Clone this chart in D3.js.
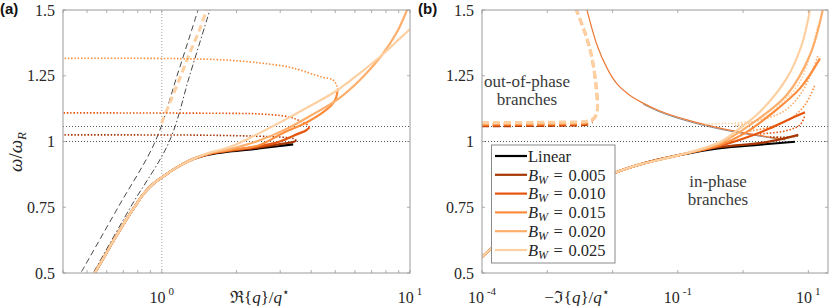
<!DOCTYPE html>
<html>
<head>
<meta charset="utf-8">
<script src="https://cdn.jsdelivr.net/npm/d3@7"></script>
<style>
  html, body { margin: 0; padding: 0; background: #fff; }
  svg { display: block; font-family: 'Liberation Serif', 'DejaVu Serif', serif; }
</style>
</head>
<body>
<div id="chart"></div>
<script>
// ---- series identities ----
const seriesNames = ['Linear', '0.005', '0.010', '0.015', '0.020', '0.025'];
const seriesColors = ['#000000', '#a63603', '#e6550d', '#fd8d3c', '#fdae6b', '#fdd0a2'];
const omegaTicks = [0.5, 0.75, 1, 1.25, 1.5];
const omegaTickLabels = ['0.5', '0.75', '1', '1.25', '1.5'];
const refOmega = [1, 1.057];

// ---- panel (a): omega vs Re{q}/q* ----
const aBase = [[0.537, 0.5], [0.589, 0.565], [0.634, 0.618], [0.690, 0.675], [0.743, 0.724], [0.793, 0.764], [0.838, 0.797],
  [0.895, 0.827], [0.955, 0.850], [1.028, 0.871], [1.108, 0.892], [1.215, 0.914], [1.334, 0.933]];
const aSolidLinear = [[1.562, 0.951], [1.880, 0.962], [2.438, 0.973], [2.991, 0.983], [3.384, 0.989]];
const aSolid005 = [[1.562, 0.953], [1.880, 0.964], [2.438, 0.977], [2.991, 0.990], [3.384, 0.998], [3.486, 1.004]];
const aSolid010 = [[1.562, 0.954], [1.880, 0.966], [2.438, 0.981], [2.991, 1.000], [3.535, 1.029], [3.807, 1.042], [3.934, 1.053]];
const aSolid015 = [[1.562, 0.955], [1.880, 0.968], [2.438, 0.984], [3.133, 1.036], [3.879, 1.075], [4.835, 1.139], [5.031, 1.165], [5.111, 1.196]];
const aSolid020 = [[1.562, 0.956], [1.880, 0.971], [2.438, 1.002], [3.183, 1.048], [3.953, 1.097], [5.078, 1.158], [6.285, 1.234], [7.713, 1.329], [8.863, 1.416], [9.725, 1.5]];
const aSolid025 = [[1.562, 0.958], [1.880, 0.979], [2.438, 1.029], [3.183, 1.086], [3.953, 1.135], [5.078, 1.194], [6.285, 1.260], [7.713, 1.329], [9.114, 1.392], [10, 1.428]];
const aDot005 = [[3.486, 1.004], [3.384, 1.011], [2.991, 1.017], [2.438, 1.020], [1.5, 1.024], [0.4, 1.025]];
const aDot010 = [[3.934, 1.053], [3.843, 1.065], [3.601, 1.078], [3.282, 1.093], [2.438, 1.105], [1.880, 1.107], [0.4, 1.109]];
const aDot015 = [[5.111, 1.196], [5.078, 1.211], [4.893, 1.234], [4.417, 1.245], [3.601, 1.272], [3.22, 1.284], [1.795, 1.310], [0.4, 1.316]];
const aOutPhase = [[0.997, 1.069], [1.077, 1.146], [1.182, 1.241], [1.297, 1.337], [1.423, 1.428], [1.514, 1.5]];
const aGuideDash = [[0.475, 0.505], [0.667, 0.75], [0.941, 1.0], [1.155, 1.253], [1.40, 1.5]];
const aGuideDashDot = [[0.533, 0.505], [0.748, 0.75], [1.072, 1.0], [1.297, 1.253], [1.562, 1.5]];

// ---- panel (b): omega vs -Im{q}/q* ----
const bBase = [[1e-4, 0.561], [1.422e-4, 0.595], [0.0011, 0.758], [0.0102, 0.878], [0.0264, 0.913], [0.108, 0.949]];
const bSolidLinear = [[0.443, 0.975], [1.815, 0.988], [6.245, 0.999]];
const bSolid005 = [[0.443, 0.979], [1.815, 0.994], [3.678, 1.008], [7.015, 1.025]];
const bSolid010 = [[0.443, 0.983], [1.07, 1.013], [2.585, 1.050], [5.236, 1.086], [8.886, 1.111]];
const bSolid015 = [[0.443, 0.987], [1.07, 1.032], [2.585, 1.101], [7.447, 1.202], [15.08, 1.316]];
const bSolid020 = [[0.443, 0.993], [1.276, 1.063], [4.657, 1.177], [10.59, 1.329], [16.58, 1.5]];
const bSolid025 = [[0.443, 0.998], [0.897, 1.051], [1.815, 1.113], [4.657, 1.240], [7.91, 1.367], [10.59, 1.5]];
const bDot005 = [[2.585, 1.017], [5.236, 1.017], [6.93, 1.021]];
const bDot010 = [[1.815, 1.029], [4.385, 1.040], [7.447, 1.063], [8.886, 1.101]];
const bDot015 = [[1.276, 1.040], [2.585, 1.055], [5.236, 1.086], [8.886, 1.139], [12.65, 1.215]];
const bDot020 = [[0.752, 1.059], [1.419, 1.075], [4.088, 1.113], [7.447, 1.177], [11.37, 1.265], [14.06, 1.329]];
const bDot025 = [[0.261, 1.065], [0.443, 1.068], [0.807, 1.070], [2.018, 1.088], [3.678, 1.139], [7.447, 1.227], [11.78, 1.367], [14.06, 1.443]];
const bOutThin = [[0.00406, 1.5], [0.00578, 1.367], [0.00823, 1.279], [0.0117, 1.219], [0.01725, 1.181], [0.0293, 1.146], [0.0534, 1.116], [0.1384, 1.082], [0.443, 1.051], [1.815, 1.023], [4.385, 1.008]];
const bOutThinLinear = [[0.0293, 1.142], [0.0534, 1.112], [0.1384, 1.078], [0.443, 1.047], [1.815, 1.020], [4.385, 1.006]];
const bDash005 = [[1e-4, 1.060], [0.0016, 1.062], [0.0042, 1.066], [0.0049, 1.072]];
const bDash010 = [[1e-4, 1.063], [0.0016, 1.065], [0.0042, 1.069], [0.0049, 1.075]];
const bDash015 = [[1e-4, 1.066], [0.0016, 1.068], [0.0042, 1.072], [0.0049, 1.078]];
const bDash020 = [[1e-4, 1.069], [0.0016, 1.071], [0.0042, 1.075], [0.0052, 1.088], [0.0058, 1.113], [0.00564, 1.202], [0.00473, 1.329], [0.00374, 1.417], [0.00279, 1.5]];
const bDash025 = [[1e-4, 1.072], [0.0016, 1.074], [0.0042, 1.078], [0.0052, 1.09], [0.0058, 1.113], [0.00564, 1.202], [0.00473, 1.329], [0.00374, 1.417], [0.00279, 1.5]];

const aMinorTicks = [0.4, 0.5, 0.6, 0.7, 0.8, 0.9, 1, 2, 3, 4, 5, 6, 7, 8, 9, 10];
const aLabelTicks = [1, 10];
const aLabelExp = ['0', '1'];
const bTicks = [1e-4, 1e-3, 1e-2, 1e-1, 1, 10];
const bLabelTicks = [1e-4, 1e-1, 10];
const bLabelExp = ['-4', '-1', '1'];

const W = 830, H = 306;
const svg = d3.select('#chart').append('svg').attr('width', W).attr('height', H);

const y = d3.scaleLinear().domain([0.5, 1.5]).range([273, 10]);
const xA = d3.scaleLog().domain([0.4, 10]).range([63, 410]);
const xB = d3.scaleLog().domain([1e-4, 20]).range([482, 828]);

const FRAME = '#9a9a9a';
const INK = '#262626';

function lineGen(x) {
  return d3.line()
    .x(d => x(d[0]))
    .y(d => y(d[1]))
    .curve(d3.curveCatmullRom.alpha(0.5));
}

function makePanel(id, x) {
  const [x0, x1] = x.range();
  const [y0, y1] = y.range();
  svg.append('clipPath').attr('id', id)
    .append('rect').attr('x', x0).attr('y', y1).attr('width', x1 - x0).attr('height', y0 - y1);
  const g = svg.append('g');
  const plot = g.append('g').attr('clip-path', `url(#${id})`);
  return { g, plot, x0, x1, y0, y1 };
}

function drawPath(plot, x, data, color, width, dash) {
  plot.append('path')
    .datum(data)
    .attr('fill', 'none')
    .attr('stroke', color)
    .attr('stroke-width', width)
    .attr('stroke-dasharray', dash || null)
    .attr('d', lineGen(x));
}

function refLines(p) {
  refOmega.forEach(w => {
    p.plot.append('line')
      .attr('x1', p.x0).attr('x2', p.x1)
      .attr('y1', y(w)).attr('y2', y(w))
      .attr('stroke', '#444').attr('stroke-width', 0.9)
      .attr('stroke-dasharray', '1,2');
  });
}

function drawFrame(p, x, ticks, labelTicks, labelExp) {
  const g = p.g;
  ticks.forEach(t => {
    const px = x(t);
    g.append('line').attr('x1', px).attr('x2', px).attr('y1', p.y0).attr('y2', p.y0 - 3)
      .attr('stroke', FRAME).attr('stroke-width', 0.8);
    g.append('line').attr('x1', px).attr('x2', px).attr('y1', p.y1).attr('y2', p.y1 + 3)
      .attr('stroke', FRAME).attr('stroke-width', 0.8);
  });
  omegaTicks.forEach(t => {
    g.append('line').attr('x1', p.x0).attr('x2', p.x0 + 3).attr('y1', y(t)).attr('y2', y(t))
      .attr('stroke', FRAME).attr('stroke-width', 0.8);
    g.append('line').attr('x1', p.x1).attr('x2', p.x1 - 3).attr('y1', y(t)).attr('y2', y(t))
      .attr('stroke', FRAME).attr('stroke-width', 0.8);
  });
  g.append('rect')
    .attr('x', p.x0).attr('y', p.y1)
    .attr('width', p.x1 - p.x0).attr('height', p.y0 - p.y1)
    .attr('fill', 'none').attr('stroke', FRAME).attr('stroke-width', 1);

  omegaTicks.forEach((t, i) => {
    g.append('text')
      .attr('x', p.x0 - 8).attr('y', y(t)).attr('dy', '0.35em')
      .attr('text-anchor', 'end')
      .style('font-size', '16px').style('fill', INK)
      .text(omegaTickLabels[i]);
  });
  labelTicks.forEach((t, i) => {
    const txt = g.append('text')
      .attr('x', x(t)).attr('y', 303)
      .attr('text-anchor', 'middle')
      .style('font-size', '16px').style('fill', INK);
    txt.append('tspan').text('10');
    txt.append('tspan').attr('dx', 3).attr('dy', -8).style('font-size', '11px').text(labelExp[i]);
  });
}

function axisLabel(g, xPos, prefix) {
  const t = g.append('text')
    .attr('x', xPos).attr('y', 303)
    .attr('text-anchor', 'middle')
    .style('font-size', '17px').style('fill', INK);
  t.append('tspan').text(prefix + '{');
  t.append('tspan').style('font-style', 'italic').text('q');
  t.append('tspan').text('}/');
  t.append('tspan').style('font-style', 'italic').text('q');
  t.append('tspan').attr('dy', -7).style('font-size', '12px').text('\u22C6');
}

// ---------------- panel (a) ----------------
const pA = makePanel('clipA', xA);
refLines(pA);
pA.plot.append('line')
  .attr('x1', xA(1)).attr('x2', xA(1)).attr('y1', pA.y0).attr('y2', pA.y1)
  .attr('stroke', '#999').attr('stroke-width', 0.9).attr('stroke-dasharray', '1,2');

drawPath(pA.plot, xA, aGuideDash, '#333', 0.9, '6,3.5');
drawPath(pA.plot, xA, aGuideDashDot, '#333', 0.9, '6,2.5,1.5,2.5');
drawPath(pA.plot, xA, aOutPhase, seriesColors[5], 3, '7,4');

const aSolids = [aSolidLinear, aSolid005, aSolid010, aSolid015, aSolid020, aSolid025];
const aDots = [null, aDot005, aDot010, aDot015, null, null];
aDots.forEach((d, i) => { if (d) drawPath(pA.plot, xA, d, seriesColors[i], 1.6, '1.5,1.8'); });
aSolids.forEach((d, i) => {
  drawPath(pA.plot, xA, aBase.concat(d), seriesColors[i], 2.2);
});
drawFrame(pA, xA, aMinorTicks, aLabelTicks, aLabelExp);
axisLabel(pA.g, 260, '\u211C');

// y label
const yl = svg.append('text')
  .attr('transform', 'translate(22,152) rotate(-90)')
  .attr('text-anchor', 'middle')
  .style('font-size', '19px').style('fill', INK);
yl.append('tspan').style('font-style', 'italic').text('\u03C9');
yl.append('tspan').text('/');
yl.append('tspan').style('font-style', 'italic').text('\u03C9');
yl.append('tspan').attr('dy', 4).style('font-size', '13px').style('font-style', 'italic').text('R');

// ---------------- panel (b) ----------------
const pB = makePanel('clipB', xB);
refLines(pB);

drawPath(pB.plot, xB, bOutThinLinear, '#666', 0.8);
drawPath(pB.plot, xB, bOutThin, '#ec7a38', 1.2);

const bDots = [null, bDot005, bDot010, bDot015, bDot020, bDot025];
bDots.forEach((d, i) => { if (d) drawPath(pB.plot, xB, d, seriesColors[i], 1.6, '1.5,1.8'); });

const bSolids = [bSolidLinear, bSolid005, bSolid010, bSolid015, bSolid020, bSolid025];
bSolids.forEach((d, i) => {
  drawPath(pB.plot, xB, bBase.concat(d), seriesColors[i], 2.2);
});

const bDashes = [bDash005, bDash010, bDash015, bDash020, bDash025];
bDashes.forEach((d, i) => drawPath(pB.plot, xB, d, seriesColors[i + 1], 3, '7,4'));

drawFrame(pB, xB, bTicks, bLabelTicks, bLabelExp);
axisLabel(pB.g, 577, '\u2212\u2111');

// annotations
function note(xc, lines, y0) {
  lines.forEach((s, i) => {
    svg.append('text')
      .attr('x', xc).attr('y', y0 + i * 18)
      .attr('text-anchor', 'middle')
      .style('font-size', '17px').style('fill', '#3a3a3a')
      .text(s);
  });
}
note(527, ['out-of-phase', 'branches'], 87);
note(718, ['in-phase', 'branches'], 187);

// legend
const leg = svg.append('g');
leg.append('rect')
  .attr('x', 491.5).attr('y', 145).attr('width', 123.5).attr('height', 118)
  .attr('fill', '#fff').attr('stroke', '#8a8a8a').attr('stroke-width', 1);
const legRows = d3.scalePoint().domain(seriesNames).range([156, 250]);
seriesNames.forEach((name, i) => {
  const cy = legRows(name);
  leg.append('line')
    .attr('x1', 495).attr('x2', 527).attr('y1', cy).attr('y2', cy)
    .attr('stroke', seriesColors[i]).attr('stroke-width', 2.2);
  const t = leg.append('text')
    .attr('x', 528).attr('y', cy).attr('dy', '0.35em')
    .style('font-size', '16.5px').style('fill', INK);
  if (i === 0) {
    t.text(name);
  } else {
    t.append('tspan').style('font-style', 'italic').text('B');
    t.append('tspan').attr('dy', 3).style('font-size', '12px').style('font-style', 'italic').text('W');
    t.append('tspan').attr('dy', -3).text('\u2004=\u2004' + name);
  }
});

// panel tags
[['(a)', 0], ['(b)', 418]].forEach(([s, xp]) => {
  svg.append('text')
    .attr('x', xp).attr('y', 14)
    .style('font-family', "'Liberation Sans', Arial, sans-serif")
    .style('font-weight', 'bold').style('font-size', '15px').style('fill', '#111')
    .text(s);
});
</script>
</body>
</html>
